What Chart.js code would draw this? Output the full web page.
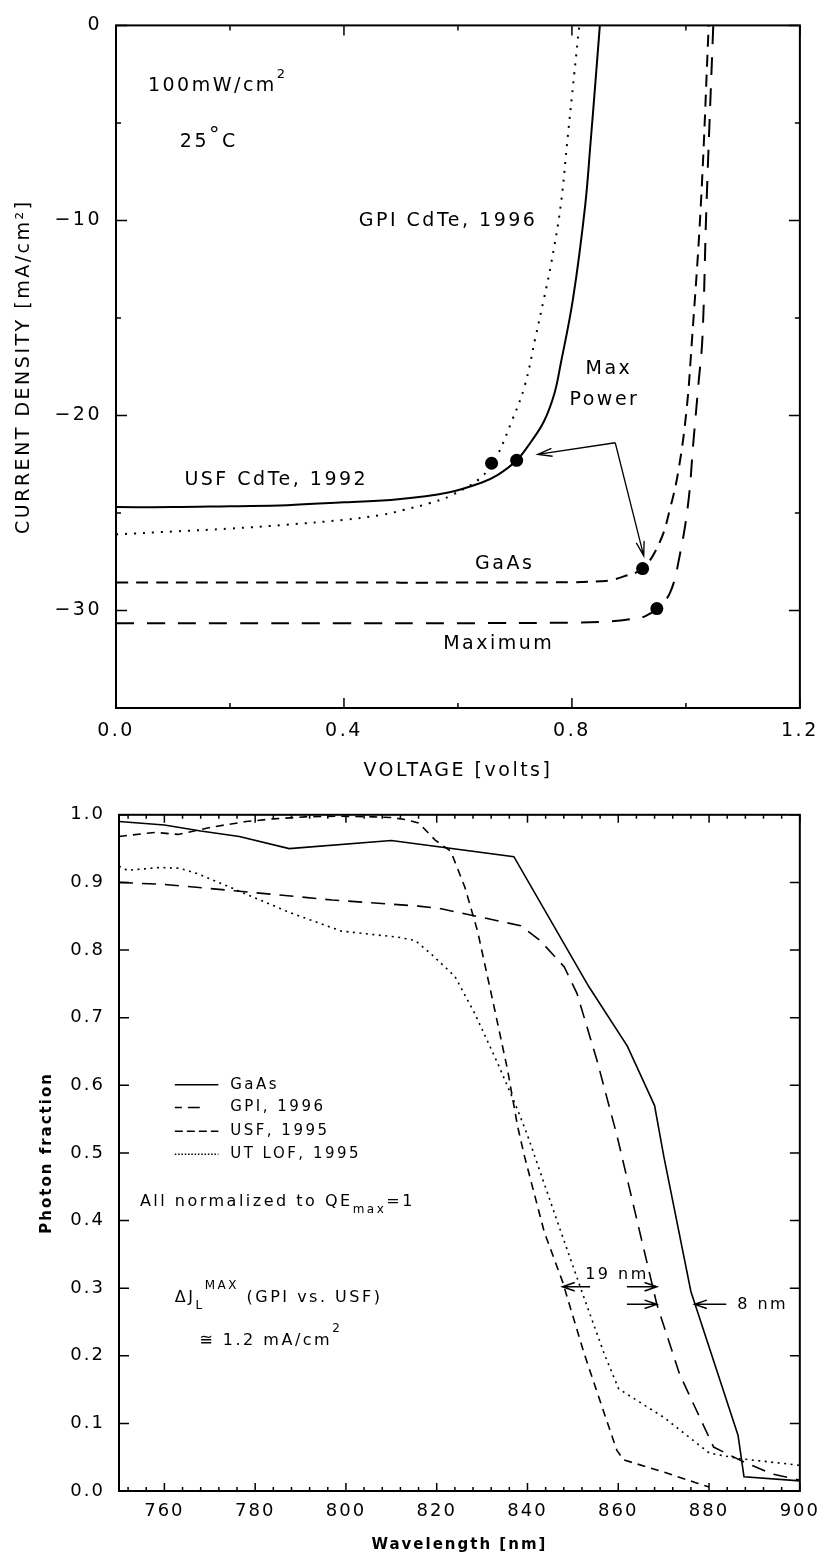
<!DOCTYPE html>
<html><head><meta charset="utf-8">
<script src="https://cdn.jsdelivr.net/npm/chart.js@4.4.1/dist/chart.umd.min.js"></script>
<style>
html,body{margin:0;padding:0;background:#fff;}
#wrap{position:relative;width:827px;height:1560px;background:#fff;}
canvas{position:absolute;left:0;}
#c1{top:0;} #c2{top:790px;}
</style></head><body>
<div id="wrap"><canvas id="c1" width="827" height="790"></canvas><canvas id="c2" width="827" height="770"></canvas></div>
<script>
// ================= TOP PANEL DATA: current density vs voltage =================
const usfCdTeV = [0, 0.1, 0.2, 0.3, 0.4, 0.495, 0.583, 0.641, 0.670, 0.703, 0.727, 0.751, 0.769, 0.780, 0.802, 0.823, 0.833, 0.841, 0.849];
const usfCdTeJ = [-24.7, -24.7, -24.65, -24.6, -24.45, -24.3, -23.95, -23.45, -23.05, -22.3, -21.4, -20.3, -18.9, -17.4, -14.0, -9.3, -5.9, -3.0, 0];

const gpiCdTeV = [0, 0.1, 0.2, 0.3, 0.4, 0.466, 0.504, 0.55, 0.588, 0.640, 0.659, 0.670, 0.693, 0.717, 0.736, 0.751, 0.763, 0.780, 0.792, 0.804, 0.813];
const gpiCdTeJ = [-26.1, -25.95, -25.8, -25.6, -25.35, -25.1, -24.85, -24.5, -24.1, -23.2, -22.45, -22.0, -20.4, -18.5, -16.0, -14.0, -12.3, -9.3, -5.9, -2.5, 0];

const gaasV = [0, 0.2, 0.4, 0.6, 0.8, 0.85, 0.867, 0.891, 0.924, 0.954, 0.972, 0.987, 1.001, 1.010, 1.026, 1.040];
const gaasJ = [-28.57, -28.57, -28.57, -28.57, -28.55, -28.5, -28.45, -28.25, -27.85, -26.5, -24.8, -22.8, -19.75, -16.4, -9.3, 0];

const maximumV = [0, 0.2, 0.4, 0.6, 0.8, 0.87, 0.902, 0.928, 0.949, 0.972, 0.989, 1.004, 1.013, 1.022, 1.029, 1.036, 1.048];
const maximumJ = [-30.65, -30.65, -30.65, -30.65, -30.62, -30.55, -30.45, -30.3, -29.9, -29.1, -27.2, -24.5, -21.4, -18.4, -16.0, -9.3, 0];

const maxPowerV = [0.659, 0.703, 0.924, 0.949];
const maxPowerJ = [-22.45, -22.3, -27.85, -29.9];

const voltTickLabels = [0, 0.4, 0.8, 1.2];
const voltMinorTicks = [0.2, 0.6, 1.0];
const currentTickLabels = [-30, -20, -10, 0];
const currentMinorTicks = [-25, -15, -5];

// ================= BOTTOM PANEL DATA: photon fraction vs wavelength =================
const gaasWl = [750, 760, 768, 776.5, 787.5, 810, 837, 853.5, 862, 868, 870, 876, 886.4, 887.7, 900];
const gaasQE = [0.990, 0.985, 0.976, 0.968, 0.950, 0.962, 0.938, 0.746, 0.658, 0.570, 0.496, 0.295, 0.082, 0.021, 0.015];

const gpiWl = [750, 760, 776.5, 797, 816, 821, 838.5, 842.8, 848.1, 850.9, 855.3, 859.7, 868.5, 873.5, 881, 887, 894, 900];
const gpiQE = [0.900, 0.897, 0.887, 0.874, 0.865, 0.861, 0.836, 0.814, 0.775, 0.736, 0.637, 0.526, 0.276, 0.173, 0.065, 0.045, 0.025, 0.016];

const usfWl = [750, 758, 763, 770.6, 778, 784, 791, 798, 806, 810, 813, 816, 819.6, 823.1, 826.2, 829, 832.8, 835.6, 837.8, 839.3, 843.7, 847.7, 852.5, 856.9, 859.7, 861.2, 870, 877.2, 880];
const usfQE = [0.968, 0.974, 0.971, 0.982, 0.990, 0.994, 0.997, 0.998, 0.997, 0.996, 0.993, 0.988, 0.963, 0.946, 0.893, 0.828, 0.711, 0.623, 0.540, 0.496, 0.383, 0.310, 0.203, 0.115, 0.060, 0.046, 0.028, 0.012, 0.006];

const utlofWl = [750, 751.8, 759, 763.4, 767.7, 776.5, 787.4, 799, 811.5, 815.3, 818.8, 824, 828.4, 833.4, 837.8, 840, 846.6, 852.5, 856.9, 860.1, 870, 880.1, 886.6, 900];
const utlofQE = [0.924, 0.918, 0.922, 0.921, 0.912, 0.887, 0.856, 0.828, 0.819, 0.814, 0.794, 0.761, 0.706, 0.633, 0.564, 0.526, 0.398, 0.285, 0.203, 0.151, 0.109, 0.056, 0.048, 0.038];

const wlTickLabels = [760, 780, 800, 820, 840, 860, 880, 900];
const wlMinorTicks = [752, 756, 764, 768, 772, 776, 784, 788, 792, 796, 804, 808, 812, 816, 824, 828, 832, 836, 844, 848, 852, 856, 864, 868, 872, 876, 884, 888, 892, 896];
const qeTickLabels = [0, 0.1, 0.2, 0.3, 0.4, 0.5, 0.6, 0.7, 0.8, 0.9, 1.0];

// ================= helpers =================
const FONT = "'DejaVu Sans', 'Noto Sans', sans-serif";
const pts = (xs, ys) => xs.map((x, i) => ({x, y: ys[i]}));

function richText(ctx, x, y, parts, size, align, bold) {
  // parts: [text, sizeFactor, dyFactor]
  const w = parts.map(p => { ctx.font = (bold ? 'bold ' : '') + Math.round(size * p[1]) + 'px ' + FONT; return ctx.measureText(p[0]).width; });
  const total = w.reduce((a, b) => a + b, 0);
  let cx = align === 'center' ? x - total / 2 : x;
  parts.forEach((p, i) => {
    ctx.font = (bold ? 'bold ' : '') + Math.round(size * p[1]) + 'px ' + FONT;
    ctx.fillText(p[0], cx, y + size * p[2]);
    cx += w[i];
  });
}
function arrow(ctx, x0, y0, x1, y1, head, ang) {
  ctx.beginPath(); ctx.moveTo(x0, y0); ctx.lineTo(x1, y1);
  const a = Math.atan2(y1 - y0, x1 - x0);
  ctx.moveTo(x1 - head * Math.cos(a - ang), y1 - head * Math.sin(a - ang));
  ctx.lineTo(x1, y1);
  ctx.lineTo(x1 - head * Math.cos(a + ang), y1 - head * Math.sin(a + ang));
  ctx.stroke();
}
function frameAndTicks(chart, cfg) {
  const {ctx, chartArea: a} = chart;
  const sx = chart.scales.x, sy = chart.scales.y;
  ctx.save();
  ctx.setLineDash([]);
  ctx.strokeStyle = '#000';
  ctx.lineWidth = cfg.tickWidth;
  ctx.beginPath();
  cfg.xTicks.forEach(([vals, len]) => vals.forEach(v => {
    const p = sx.getPixelForValue(v);
    ctx.moveTo(p, a.bottom); ctx.lineTo(p, a.bottom - len);
    ctx.moveTo(p, a.top); ctx.lineTo(p, a.top + len);
  }));
  cfg.yTicks.forEach(([vals, len]) => vals.forEach(v => {
    const p = sy.getPixelForValue(v);
    ctx.moveTo(a.left, p); ctx.lineTo(a.left + len, p);
    ctx.moveTo(a.right, p); ctx.lineTo(a.right - len, p);
  }));
  ctx.stroke();
  ctx.lineWidth = cfg.frameWidth;
  ctx.strokeRect(a.left, a.top, a.right - a.left, a.bottom - a.top);
  ctx.restore();
}
const spacing = ls => ({ id: 'spacing' + ls.replace('.', '_'), beforeDraw(c) { c.ctx.letterSpacing = ls; } });

// ================= TOP CHART =================
const topNotes = [
  {x: 0.056, y: -3.09, parts: [['100mW/cm', 1, 0], ['2', 0.68, -0.6]]},
  {x: 0.112, y: -5.98, parts: [['25', 1, 0], ['°', 1.1, -0.3], ['C', 1, 0]]},
  {x: 0.426, y: -10.03, parts: [['GPI CdTe, 1996', 1, 0]]},
  {x: 0.120, y: -23.3, parts: [['USF CdTe, 1992', 1, 0]]},
  {x: 0.865, y: -17.63, parts: [['Max', 1, 0]], align: 'center'},
  {x: 0.857, y: -19.2, parts: [['Power', 1, 0]], align: 'center'},
  {x: 0.630, y: -27.6, parts: [['GaAs', 1, 0]]},
  {x: 0.574, y: -31.7, parts: [['Maximum', 1, 0]]}
];
const topArrowFrom = [0.876, -21.4];
const topArrowTo = [[0.740, -22.0], [0.926, -27.2]];

const topPlugin = {
  id: 'topPlugin',
  afterDraw(chart) {
    const {ctx} = chart; const sx = chart.scales.x, sy = chart.scales.y;
    frameAndTicks(chart, {tickWidth: 1.5, frameWidth: 2,
      xTicks: [[voltTickLabels, 10], [voltMinorTicks, 5]],
      yTicks: [[currentTickLabels, 11], [currentMinorTicks, 5]]});
    ctx.save();
    ctx.fillStyle = '#000'; ctx.strokeStyle = '#000';
    ctx.textBaseline = 'middle'; ctx.letterSpacing = '2.5px';
    topNotes.forEach(n => richText(ctx, sx.getPixelForValue(n.x), sy.getPixelForValue(n.y), n.parts, 19, n.align || 'left'));
    ctx.lineWidth = 1.3; ctx.setLineDash([]);
    const fx = sx.getPixelForValue(topArrowFrom[0]), fy = sy.getPixelForValue(topArrowFrom[1]);
    topArrowTo.forEach(t => arrow(ctx, fx, fy, sx.getPixelForValue(t[0]), sy.getPixelForValue(t[1]), 15, 0.27));
    ctx.restore();
  }
};

const lineDs = (label, xs, ys, dash, w, tension) => ({
  label, data: pts(xs, ys), showLine: true, borderColor: '#000', backgroundColor: '#000',
  borderWidth: w, borderDash: dash, pointRadius: 0, pointHoverRadius: 0,
  cubicInterpolationMode: 'default', tension: tension
});

new Chart(document.getElementById('c1'), {
  type: 'scatter',
  data: { datasets: [
    lineDs('USF CdTe, 1992', usfCdTeV, usfCdTeJ, [], 2, 0.4),
    lineDs('GPI CdTe, 1996', gpiCdTeV, gpiCdTeJ, [2, 7], 2, 0.4),
    lineDs('GaAs', gaasV, gaasJ, [12, 8], 2, 0.4),
    lineDs('Maximum', maximumV, maximumJ, [18, 13], 2, 0.4),
    {label: 'Max Power', data: pts(maxPowerV, maxPowerJ), showLine: false, pointRadius: 6.5, pointHoverRadius: 6.5,
     backgroundColor: '#000', borderColor: '#000', borderWidth: 0}
  ]},
  options: {
    responsive: false, animation: false, devicePixelRatio: 1, events: [],
    layout: {padding: {top: 17, right: 23, left: 0, bottom: 0}},
    plugins: {legend: {display: false}, tooltip: {enabled: false}},
    scales: {
      x: {type: 'linear', min: 0, max: 1.2, position: 'bottom',
        afterBuildTicks: s => { s.ticks = voltTickLabels.map(v => ({value: v})); },
        afterFit: s => { s.height = 82; },
        ticks: {font: {family: FONT, size: 19}, color: '#000', padding: 12, maxRotation: 0, autoSkip: false,
          callback: v => Number(v).toFixed(1)},
        grid: {display: false, drawTicks: false}, border: {display: false},
        title: {display: true, text: 'VOLTAGE [volts]', font: {family: FONT, size: 19}, color: '#000', padding: {top: 0, bottom: 8}}
      },
      y: {type: 'linear', min: -35, max: 0,
        afterBuildTicks: s => { s.ticks = currentTickLabels.map(v => ({value: v})); },
        afterFit: s => { s.width = 116; },
        ticks: {font: {family: FONT, size: 19}, color: '#000', padding: 14, autoSkip: false,
          callback: v => (v < 0 ? '\u2212' + Math.abs(v) : String(v))},
        grid: {display: false, drawTicks: false}, border: {display: false},
        title: {display: true, text: 'CURRENT DENSITY [mA/cm\u00B2]', font: {family: FONT, size: 19}, color: '#000', padding: {top: 13, bottom: 0}}
      }
    }
  },
  plugins: [spacing('2.5px'), topPlugin]
});

// ================= BOTTOM CHART =================
const legendItems = [
  {label: 'GaAs', dash: [], y: 0.6006, end: 771.9},
  {label: 'GPI, 1996', dash: [7, 6, 13, 100], y: 0.567, end: 767.8},
  {label: 'USF, 1995', dash: [8, 4], y: 0.532, end: 771.9},
  {label: 'UT LOF, 1995', dash: [1.5, 1.8], y: 0.498, end: 771.9}
];
const legendLineStart = 762.3;
const legendTextX = 774.5;
const bottomNotes = [
  {x: 754.6, y: 0.427, parts: [['All normalized to QE', 1, 0], ['max', 0.75, 0.45], ['=1', 1, 0]]},
  {x: 762.3, y: 0.286, parts: [['\u0394J', 1, 0], ['L', 0.75, 0.5], ['MAX', 0.72, -0.75], [' (GPI vs. USF)', 1, 0]]},
  {x: 767.7, y: 0.222, parts: [['\u2245 1.2 mA/cm', 1, 0], ['2', 0.72, -0.75]]},
  {x: 852.7, y: 0.320, parts: [['19 nm', 1, 0]]},
  {x: 886.2, y: 0.276, parts: [['8 nm', 1, 0]]}
];
const bottomArrows = [
  [[853.8, 0.302], [847.7, 0.302]],
  [[861.9, 0.302], [868.5, 0.302]],
  [[861.9, 0.276], [868.5, 0.276]],
  [[883.8, 0.276], [876.8, 0.276]]
];

const bottomPlugin = {
  id: 'bottomPlugin',
  afterDraw(chart) {
    const {ctx} = chart; const sx = chart.scales.x, sy = chart.scales.y;
    frameAndTicks(chart, {tickWidth: 1.5, frameWidth: 2,
      xTicks: [[wlTickLabels, 8], [wlMinorTicks, 4]],
      yTicks: [[qeTickLabels, 10]]});
    ctx.save();
    ctx.fillStyle = '#000'; ctx.strokeStyle = '#000';
    ctx.textBaseline = 'middle'; ctx.letterSpacing = '2.5px';
    legendItems.forEach(it => {
      const py = sy.getPixelForValue(it.y);
      ctx.lineWidth = 1.5; ctx.setLineDash(it.dash);
      ctx.beginPath(); ctx.moveTo(sx.getPixelForValue(legendLineStart), py); ctx.lineTo(sx.getPixelForValue(it.end), py); ctx.stroke();
      ctx.setLineDash([]);
      richText(ctx, sx.getPixelForValue(legendTextX), py, [[it.label, 1, 0]], 15, 'left');
    });
    bottomNotes.forEach(n => richText(ctx, sx.getPixelForValue(n.x), sy.getPixelForValue(n.y), n.parts, 16, 'left'));
    ctx.lineWidth = 1.5; ctx.setLineDash([]);
    bottomArrows.forEach(([f, t]) => arrow(ctx, sx.getPixelForValue(f[0]), sy.getPixelForValue(f[1]), sx.getPixelForValue(t[0]), sy.getPixelForValue(t[1]), 13, 0.33));
    ctx.restore();
  }
};

new Chart(document.getElementById('c2'), {
  type: 'scatter',
  data: { datasets: [
    lineDs('GaAs', gaasWl, gaasQE, [], 1.6, 0),
    lineDs('GPI, 1996', gpiWl, gpiQE, [14, 9], 1.6, 0),
    lineDs('USF, 1995', usfWl, usfQE, [8, 6], 1.6, 0),
    lineDs('UT LOF, 1995', utlofWl, utlofQE, [2, 4.5], 1.6, 0)
  ]},
  options: {
    responsive: false, animation: false, devicePixelRatio: 1, events: [],
    layout: {padding: {top: 19, right: 23, left: 0, bottom: 0}},
    plugins: {legend: {display: false}, tooltip: {enabled: false}},
    scales: {
      x: {type: 'linear', min: 750, max: 900, position: 'bottom',
        afterBuildTicks: s => { s.ticks = wlTickLabels.map(v => ({value: v})); },
        afterFit: s => { s.height = 69; },
        ticks: {font: {family: FONT, size: 18}, color: '#000', padding: 10, maxRotation: 0, autoSkip: false,
          callback: v => String(v)},
        grid: {display: false, drawTicks: false}, border: {display: false},
        title: {display: true, text: 'Wavelength [nm]', font: {family: FONT, size: 15, weight: 'bold'}, color: '#000', padding: {top: 0, bottom: 6}}
      },
      y: {type: 'linear', min: 0, max: 1,
        afterBuildTicks: s => { s.ticks = qeTickLabels.map(v => ({value: v})); },
        afterFit: s => { s.width = 119; },
        ticks: {font: {family: FONT, size: 18}, color: '#000', padding: 14, autoSkip: false,
          callback: v => Number(v).toFixed(1)},
        grid: {display: false, drawTicks: false}, border: {display: false},
        title: {display: true, text: 'Photon fraction', font: {family: FONT, size: 15, weight: 'bold'}, color: '#000', padding: {top: 38, bottom: 0}}
      }
    }
  },
  plugins: [spacing('2px'), bottomPlugin]
});
</script>
</body></html>
